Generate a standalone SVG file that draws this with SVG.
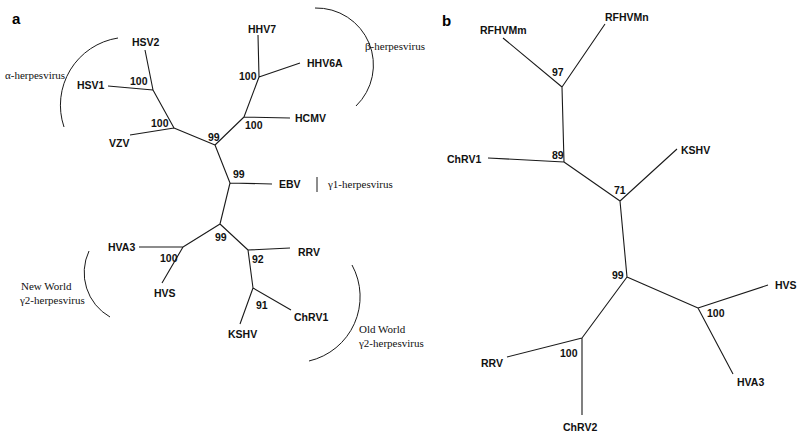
<svg xmlns="http://www.w3.org/2000/svg" width="800" height="433" viewBox="0 0 800 433">
<style>
.e{stroke:#1a1a1a;stroke-width:1.1;fill:none}
.arc{stroke:#1a1a1a;stroke-width:1;fill:none}
.l{font-family:"Liberation Sans",Arial,sans-serif;font-weight:bold;font-size:10.5px;fill:#111}
.n{font-family:"Liberation Sans",Arial,sans-serif;font-weight:bold;font-size:10.5px;fill:#111}
.s{font-family:"Liberation Serif","Times New Roman",serif;font-size:11px;fill:#111}
.p{font-family:"Liberation Sans",Arial,sans-serif;font-weight:bold;font-size:15px;fill:#000}
</style>
<rect width="800" height="433" fill="#fff"/>
<text class="p" x="12" y="24">a</text>
<text class="p" x="442" y="26">b</text>

<g id="connectors">
<!-- panel a -->
<path class="e" d="M145,50 L153,90 M108,86 L153,90 M153,90 L174,128 M130,135 L174,128 M174,128 L215,145 M215,145 L244,117 M244,117 L290,118 M244,117 L259,77 M259,77 L258,35 M259,77 L300,63 M215,145 L230,183 M230,183 L272,184 M230,183 L220,224 M220,224 L248,250 M248,250 L290,248 M248,250 L253,288 M253,288 L291,310 M253,288 L240,324 M220,224 L183,247 M183,247 L139,247 M183,247 L162,283"/>
<!-- panel b -->
<path class="e" d="M503,38 L562,87 M605,24 L562,87 M562,87 L564,162 M488,158 L564,162 M564,162 L620,201 M620,201 L677,149 M620,201 L627,277 M627,277 L698,308 M698,308 L768,285 M698,308 L733,374 M627,277 L582,338 M582,338 L507,357 M582,338 L582,415"/>
</g>

<g id="clade-alpha">
<path class="arc" d="M118,38 A68,68 0 0 0 64,127"/>
<text class="s" x="5" y="79">α-herpesvirus</text>
</g>
<g id="clade-beta">
<path class="arc" d="M315,8 A57,57 0 0 1 356,106"/>
<text class="s" x="365" y="50">β-herpesvirus</text>
</g>
<g id="clade-gamma1">
<path class="arc" d="M317,177 L317,192"/>
<text class="s" x="328" y="188">γ1-herpesvirus</text>
</g>
<g id="clade-newworld">
<path class="arc" d="M89,251 A51,51 0 0 0 110,317"/>
<text class="s" x="21" y="290">New World</text>
<text class="s" x="20" y="304">γ2-herpesvirus</text>
</g>
<g id="clade-oldworld">
<path class="arc" d="M352,265 A66,66 0 0 1 309,361"/>
<text class="s" x="359" y="333">Old World</text>
<text class="s" x="359" y="347">γ2-herpesvirus</text>
</g>

<!-- panel a leaves -->
<g id="a-HSV2"><text class="l" x="132" y="46">HSV2</text></g>
<g id="a-HSV1"><text class="l" x="77" y="89">HSV1</text></g>
<g id="a-VZV"><text class="l" x="109" y="147">VZV</text></g>
<g id="a-HHV7"><text class="l" x="248" y="33">HHV7</text></g>
<g id="a-HHV6A"><text class="l" x="307" y="67">HHV6A</text></g>
<g id="a-HCMV"><text class="l" x="295" y="122">HCMV</text></g>
<g id="a-EBV"><text class="l" x="279" y="188">EBV</text></g>
<g id="a-RRV"><text class="l" x="298" y="256">RRV</text></g>
<g id="a-ChRV1"><text class="l" x="294" y="321">ChRV1</text></g>
<g id="a-KSHV"><text class="l" x="228" y="338">KSHV</text></g>
<g id="a-HVA3"><text class="l" x="108" y="251">HVA3</text></g>
<g id="a-HVS"><text class="l" x="154" y="297">HVS</text></g>

<!-- panel a internal nodes -->
<g id="a-node-hsv"><text class="n" x="130" y="85">100</text></g>
<g id="a-node-alpha"><text class="n" x="151" y="127">100</text></g>
<g id="a-node-root"><text class="n" x="208" y="141">99</text></g>
<g id="a-node-hcmv"><text class="n" x="245" y="129">100</text></g>
<g id="a-node-hhv"><text class="n" x="239" y="80">100</text></g>
<g id="a-node-ebv"><text class="n" x="233" y="178">99</text></g>
<g id="a-node-gamma2"><text class="n" x="215" y="241">99</text></g>
<g id="a-node-rrv"><text class="n" x="252" y="263">92</text></g>
<g id="a-node-kshv"><text class="n" x="256" y="309">91</text></g>
<g id="a-node-hva"><text class="n" x="160" y="262">100</text></g>

<!-- panel b leaves -->
<g id="b-RFHVMm"><text class="l" x="480" y="34">RFHVMm</text></g>
<g id="b-RFHVMn"><text class="l" x="605" y="21">RFHVMn</text></g>
<g id="b-ChRV1"><text class="l" x="447" y="163">ChRV1</text></g>
<g id="b-KSHV"><text class="l" x="681" y="154">KSHV</text></g>
<g id="b-HVS"><text class="l" x="775" y="289">HVS</text></g>
<g id="b-HVA3"><text class="l" x="737" y="386">HVA3</text></g>
<g id="b-RRV"><text class="l" x="481" y="367">RRV</text></g>
<g id="b-ChRV2"><text class="l" x="563" y="431">ChRV2</text></g>

<!-- panel b internal nodes -->
<g id="b-node-rfhv"><text class="n" x="552" y="76">97</text></g>
<g id="b-node-chrv1"><text class="n" x="552" y="159">89</text></g>
<g id="b-node-kshv"><text class="n" x="614" y="194">71</text></g>
<g id="b-node-root"><text class="n" x="612" y="279">99</text></g>
<g id="b-node-hvs"><text class="n" x="707" y="317">100</text></g>
<g id="b-node-rrv"><text class="n" x="560" y="357">100</text></g>
</svg>
